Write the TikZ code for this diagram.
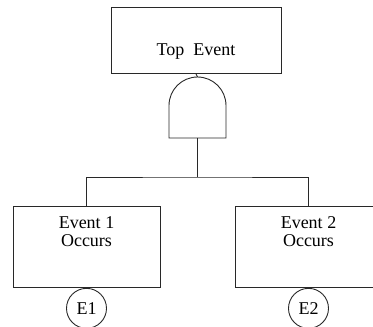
\documentclass[tikz,border=0pt]{standalone}
\usepackage{fontspec}
\setmainfont{Liberation Serif}
\usetikzlibrary{positioning,calc}
\definecolor{linegray}{RGB}{40,40,40}

\begin{document}
\begin{tikzpicture}[
    x=1pt, y=-1pt,
    ftfont/.style={font=\fontsize{18}{19}\selectfont},
    evbox/.style={
      draw=linegray, line width=0.9pt, ftfont, align=center,
      minimum width=147pt, minimum height=81pt, anchor=north,
      text depth=30pt, inner xsep=0pt, inner ysep=9pt
    },
    topbox/.style={
      draw=linegray, line width=0.9pt, ftfont,
      minimum width=170pt, minimum height=66pt, anchor=north,
      text height=30pt, text depth=0pt, inner sep=0pt
    },
    tag/.style={
      draw=linegray, circle, line width=0.9pt, ftfont,
      minimum size=40pt, inner sep=0pt, anchor=north
    },
    conn/.style={draw=linegray, line width=0.9pt},
  ]

  % frame of the picture
  \clip (0,0) rectangle (373,327);
  \useasboundingbox (0,0) rectangle (373,327);

  % --- Top event ---
  \node[topbox] (top) at (196,7) {Top\ \ Event};

  % --- AND gate ---
  \coordinate (gtop) at (197.5,77);
  \coordinate (gbot) at (197.5,138);
  \draw[conn] (169,138) -- (169,105.5) arc[start angle=180, end angle=360,
    radius=28.5] -- (226,138) -- cycle;

  % --- Basic events ---
  \node[evbox] (e1) at (86.5,206) {Event 1\\[-1pt]Occurs};
  \node[evbox] (e2) at (308.5,206) {Event 2\\[-1pt]Occurs};
  \node[tag, below=0pt of e1] (c1) {E1};
  \node[tag, below=0pt of e2] (c2) {E2};

  % --- Connectors ---
  \coordinate (bar) at (197.5,177);
  \draw[conn] (top.south) -- (gtop);
  \draw[conn] (gbot) -- (bar);
  \draw[conn] (e1.north) |- (bar) -| (e2.north);

\end{tikzpicture}
\end{document}
